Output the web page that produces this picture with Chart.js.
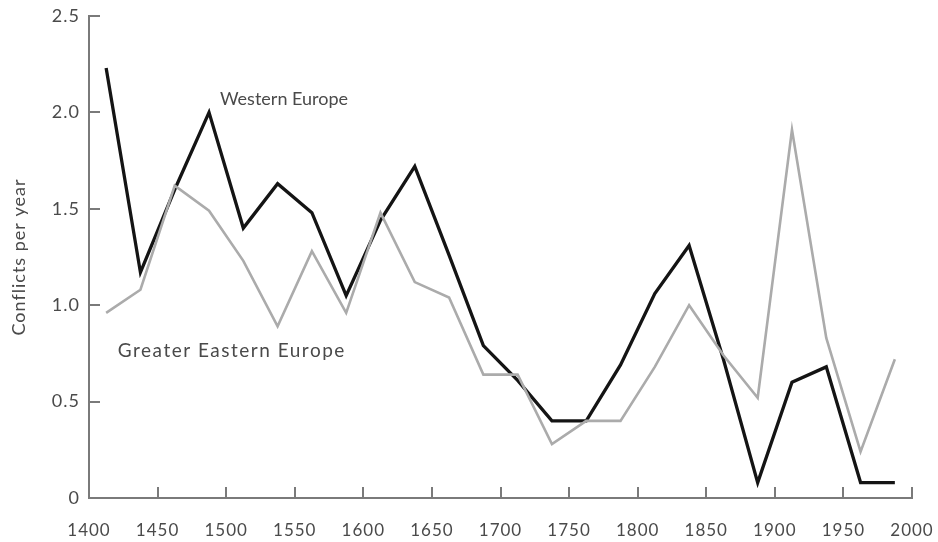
<!DOCTYPE html>
<html>
<head>
<meta charset="utf-8">
<script src="https://cdn.jsdelivr.net/npm/chart.js@4"></script>
<style>
  html, body { margin: 0; padding: 0; background: #fff; }
  #wrap { width: 938px; height: 542px; }
</style>
</head>
<body>
<div id="wrap"><canvas id="chart"></canvas></div>
<script>
// mid-points of 25-year periods
const years = [1412.5, 1437.5, 1462.5, 1487.5, 1512.5, 1537.5, 1562.5, 1587.5, 1612.5, 1637.5, 1662.5, 1687.5,
               1712.5, 1737.5, 1762.5, 1787.5, 1812.5, 1837.5, 1862.5, 1887.5, 1912.5, 1937.5, 1962.5, 1987.5];
const westernEurope = [2.23, 1.17, 1.6, 2.0, 1.40, 1.63, 1.48, 1.05, 1.44, 1.72, 1.26, 0.79,
                       0.61, 0.40, 0.40, 0.69, 1.06, 1.31, 0.72, 0.08, 0.60, 0.68, 0.08, 0.08];
const easternEurope = [0.96, 1.08, 1.62, 1.49, 1.23, 0.89, 1.28, 0.96, 1.48, 1.12, 1.04, 0.64,
                       0.64, 0.28, 0.40, 0.40, 0.68, 1.0, 0.74, 0.52, 1.91, 0.83, 0.24, 0.72];
const xTicks = [1450, 1500, 1550, 1600, 1650, 1700, 1750, 1800, 1850, 1900, 1950, 2000];
const yTicks = [0.5, 1.0, 1.5, 2.0, 2.5];
const seriesNames = ['Western Europe', 'Greater Eastern Europe'];

const FONT = 'Lato, "Open Sans", sans-serif';
const TEXT = '#4a4a4a';
const AXIS = '#7a7a7a';

const toPoints = vals => vals.map((v, i) => ({ x: years[i], y: v }));

// caption placement in data units (left edge, baseline)
const captionStyle = [
    { at: [1495.5, 2.04], size: 18, spacing: '0px' },
    { at: [1421, 0.73], size: 19, spacing: '1.5px' }
];

const spacing = {
    id: 'spacing',
    beforeDraw(chart) { chart.ctx.letterSpacing = '1px'; },
    afterDraw(chart) { chart.ctx.letterSpacing = '0px'; }
};

// tick marks point into the plot, plus the two series captions
const overlay = {
    id: 'overlay',
    afterDraw(chart) {
        const { ctx, scales: { x, y } } = chart;
        ctx.save();
        ctx.strokeStyle = AXIS;
        ctx.lineWidth = 2;
        xTicks.forEach(v => {
            const px = Math.round(x.getPixelForValue(v));
            ctx.beginPath();
            ctx.moveTo(px, y.bottom);
            ctx.lineTo(px, y.bottom - 11);
            ctx.stroke();
        });
        yTicks.forEach(v => {
            const py = Math.round(y.getPixelForValue(v));
            ctx.beginPath();
            ctx.moveTo(x.left, py);
            ctx.lineTo(x.left + 11, py);
            ctx.stroke();
        });
        ctx.fillStyle = TEXT;
        ctx.textBaseline = 'alphabetic';
        ctx.textAlign = 'left';
        seriesNames.forEach((name, i) => {
            const c = captionStyle[i];
            ctx.font = c.size + 'px ' + FONT;
            ctx.letterSpacing = c.spacing;
            ctx.fillText(name, x.getPixelForValue(c.at[0]), y.getPixelForValue(c.at[1]));
        });
        ctx.restore();
    }
};

new Chart(document.getElementById('chart'), {
    type: 'line',
    data: {
        datasets: [
            {
                label: seriesNames[1],
                data: toPoints(easternEurope),
                borderColor: '#ababab',
                borderWidth: 2.6,
                pointRadius: 0,
                tension: 0
            },
            {
                label: seriesNames[0],
                data: toPoints(westernEurope),
                borderColor: '#141414',
                borderWidth: 3.3,
                pointRadius: 0,
                tension: 0
            }
        ]
    },
    options: {
        responsive: true,
        maintainAspectRatio: false,
        animation: false,
        layout: { padding: { top: 16, right: 26, bottom: 0, left: 0 } },
        plugins: {
            legend: { display: false },
            tooltip: { enabled: false }
        },
        scales: {
            x: {
                type: 'linear',
                min: 1400,
                max: 2000,
                grid: { display: false, drawTicks: false },
                border: { display: true, color: AXIS, width: 2 },
                ticks: {
                    stepSize: 50,
                    padding: 22,
                    color: TEXT,
                    font: { family: FONT, size: 17 },
                    maxRotation: 0,
                    callback: v => String(v)
                },
                afterFit: s => {
                    s.height = 44;
                    s.paddingLeft = 0;
                    s.paddingRight = 0;
                }
            },
            y: {
                min: 0,
                max: 2.5,
                grid: { display: false, drawTicks: false },
                border: { display: true, color: AXIS, width: 2 },
                ticks: {
                    stepSize: 0.5,
                    padding: 9,
                    color: TEXT,
                    font: { family: FONT, size: 18 },
                    callback: v => v === 0 ? '0' : v.toFixed(1)
                },
                title: {
                    display: true,
                    text: 'Conflicts per year',
                    color: TEXT,
                    font: { family: FONT, size: 18 },
                    padding: { top: 8, bottom: 0 }
                },
                afterFit: s => {
                    s.width = 89;
                    s.paddingTop = 0;
                    s.paddingBottom = 0;
                }
            }
        }
    },
    plugins: [spacing, overlay]
});
</script>
</body>
</html>
